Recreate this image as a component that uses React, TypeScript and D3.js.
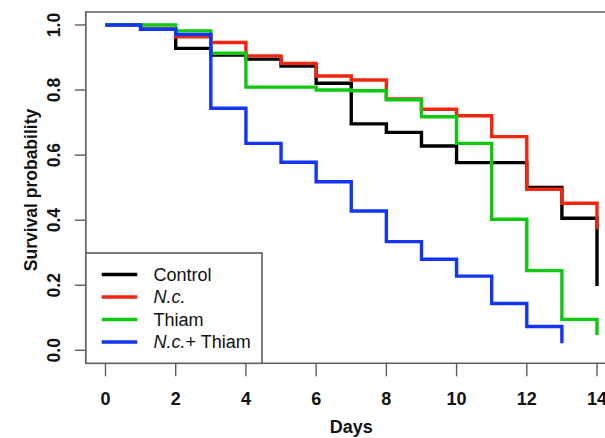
import React from "react";
import * as d3 from "d3";

const days = [0, 1, 2, 3, 4, 5, 6, 7, 8, 9, 10, 11, 12, 13, 14];
const controlSurv = [1.0, 0.987, 0.928, 0.908, 0.895, 0.874, 0.821, 0.696, 0.67, 0.628, 0.577, 0.577, 0.501, 0.406, 0.198];
const ncSurv = [1.0, 0.987, 0.964, 0.946, 0.905, 0.882, 0.843, 0.831, 0.773, 0.741, 0.721, 0.657, 0.495, 0.452, 0.372];
const thiamSurv = [1.0, 1.0, 0.982, 0.913, 0.809, 0.809, 0.8, 0.798, 0.77, 0.718, 0.636, 0.403, 0.245, 0.095, 0.047];
const ncThiamSurv = [1.0, 0.987, 0.971, 0.744, 0.636, 0.578, 0.518, 0.428, 0.334, 0.28, 0.228, 0.144, 0.073, 0.022];

const xTicks = [0, 2, 4, 6, 8, 10, 12, 14];
const yTicks = [0, 0.2, 0.4, 0.6, 0.8, 1.0];

const seriesNames = ["Control", "N.c.", "Thiam", "N.c.+ Thiam"];
const seriesColors = ["#000000", "#f4250f", "#0fc80f", "#1535f5"];
const seriesValues = [controlSurv, ncSurv, thiamSurv, ncThiamSurv];

const FONT = "'Liberation Sans', Arial, Helvetica, sans-serif";

export default function App() {
  const W = 605, H = 438;
  const x = d3.scaleLinear().domain([0, 14]).range([105.5, 597]);
  const y = d3.scaleLinear().domain([0, 1]).range([350.3, 25]);
  const boxL = x(-0.56), boxT = y(1.04), boxB = y(-0.04);
  const line = d3
    .line<[number, number]>()
    .x((d) => x(d[0]))
    .y((d) => y(d[1]))
    .curve(d3.curveStepAfter);
  const grey = "#5c5c5c";
  const legL = boxL, legR = 262, legT = 253;
  return (
    <svg width={W} height={H} style={{ position: "absolute", left: 0, top: 0, background: "#fff" }} fontFamily={FONT}>
      <rect x={0} y={0} width={W} height={H} fill="#fff" />
      {seriesValues.map((vals, i) => (
        <path
          key={i}
          d={line(vals.map((v, j) => [days[j], v] as [number, number])) || ""}
          fill="none"
          stroke={seriesColors[i]}
          strokeWidth={3.4}
          strokeLinejoin="miter"
          strokeLinecap="butt"
        />
      ))}
      {/* box */}
      <path d={`M${W + 5},${boxT}H${boxL}V${boxB}H${W + 5}`} fill="none" stroke={grey} strokeWidth={1.6} />
      {/* x axis ticks */}
      {xTicks.map((t) => (
        <g key={"x" + t}>
          <line x1={x(t)} x2={x(t)} y1={boxB} y2={boxB + 13} stroke={grey} strokeWidth={1.4} />
          <text x={x(t)} y={405} textAnchor="middle" fontSize={18} fontWeight="bold" fill="#111">
            {t}
          </text>
        </g>
      ))}
      <text x={x(7)} y={433} textAnchor="middle" fontSize={18} fontWeight="bold" fill="#111">
        Days
      </text>
      {/* y axis ticks */}
      {yTicks.map((t) => (
        <g key={"y" + t}>
          <line x1={boxL - 11} x2={boxL} y1={y(t)} y2={y(t)} stroke={grey} strokeWidth={1.4} />
          <text
            transform={`translate(60,${y(t)}) rotate(-90)`}
            textAnchor="middle"
            fontSize={17.5}
            fontWeight="bold"
            fill="#111"
          >
            {t.toFixed(1)}
          </text>
        </g>
      ))}
      <text
        transform={`translate(36.5,${190}) rotate(-90)`}
        textAnchor="middle"
        fontSize={17.5}
        fontWeight="bold"
        fill="#111"
      >
        Survival probability
      </text>
      {/* legend */}
      <rect x={legL} y={legT} width={legR - legL} height={boxB - legT} fill="#fff" stroke={grey} strokeWidth={1.6} />
      {seriesNames.map((name, i) => {
        const ly = 274.5 + 22.5 * i;
        return (
          <g key={name}>
            <line x1={101.7} x2={137.3} y1={ly} y2={ly} stroke={seriesColors[i]} strokeWidth={3.4} />
            <text x={153.5} y={ly + 6.4} fontSize={18} fill="#111">
              {name.startsWith("N.c.") ? (
                <>
                  <tspan fontStyle="italic">N.c.</tspan>
                  {name.slice(4)}
                </>
              ) : (
                name
              )}
            </text>
          </g>
        );
      })}
    </svg>
  );
}
